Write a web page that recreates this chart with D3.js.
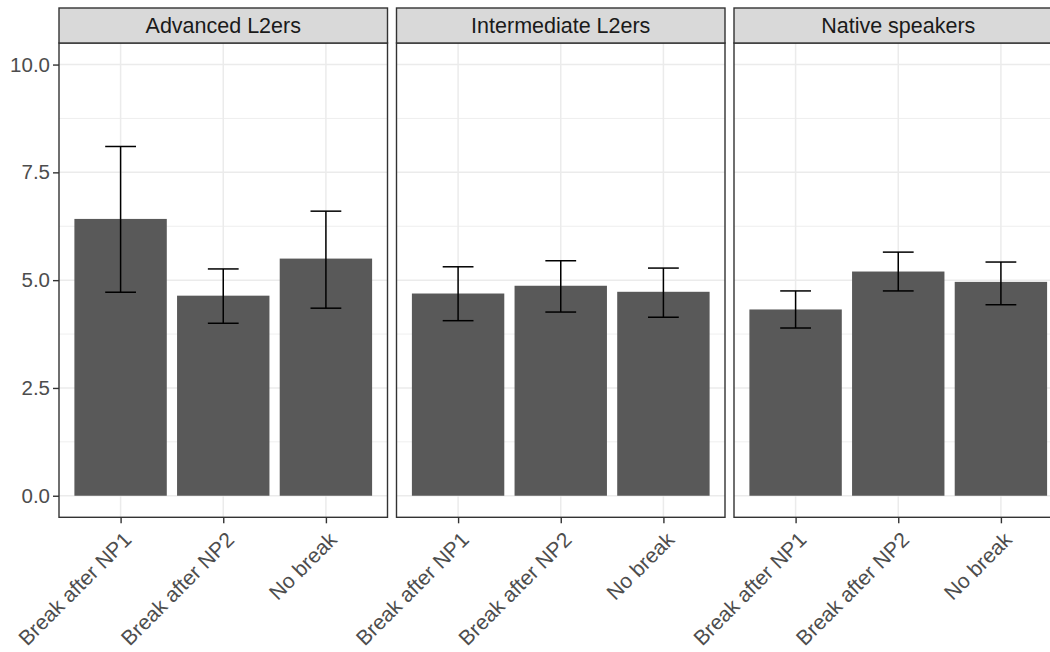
<!DOCTYPE html>
<html><head><meta charset="utf-8">
<script src="https://cdn.jsdelivr.net/npm/d3@7"></script>
<style>body{margin:0;background:#fff}svg{display:block}text{font-family:"Liberation Sans",Arial,sans-serif}</style>
</head><body>
<svg id="c" width="1050" height="652"></svg>
<script>
const groups = ["Advanced L2ers", "Intermediate L2ers", "Native speakers"];
const conditions = ["Break after NP1", "Break after NP2", "No break"];
const means = [[6.42, 4.64, 5.50], [4.69, 4.87, 4.73], [4.32, 5.20, 4.96]];
const upper = [[8.10, 5.26, 6.60], [5.31, 5.45, 5.28], [4.75, 5.65, 5.42]];
const lower = [[4.72, 4.00, 4.35], [4.06, 4.26, 4.14], [3.89, 4.75, 4.43]];
const yTicks = [0, 2.5, 5, 7.5, 10];
const yMinor = [1.25, 3.75, 6.25, 8.75];

const svg = d3.select("#c");
const panelLefts = [59, 396.5, 734];
const panelW = 328.5;
const stripTop = 8, stripBottom = 43, panelBottom = 517.3;

const y = d3.scaleLinear().domain([-0.5, 10.5]).range([panelBottom, stripBottom]);

groups.forEach((g, gi) => {
  const left = panelLefts[gi];
  const x = d3.scalePoint().domain(conditions).range([left, left + panelW]).padding(0.6);
  const step = x.step();
  const p = svg.append("g");
  // grid
  p.selectAll(".mn").data(yMinor).join("line")
    .attr("x1", left).attr("x2", left + panelW)
    .attr("y1", d => y(d)).attr("y2", d => y(d))
    .attr("stroke", "#EBEBEB").attr("stroke-width", 0.8);
  p.selectAll(".mj").data(yTicks).join("line")
    .attr("x1", left).attr("x2", left + panelW)
    .attr("y1", d => y(d)).attr("y2", d => y(d))
    .attr("stroke", "#EBEBEB").attr("stroke-width", 1.5);
  p.selectAll(".vx").data(conditions).join("line")
    .attr("x1", d => x(d)).attr("x2", d => x(d))
    .attr("y1", stripBottom).attr("y2", panelBottom)
    .attr("stroke", "#EBEBEB").attr("stroke-width", 1.5);
  // bars
  p.selectAll(".bar").data(conditions).join("rect")
    .attr("x", d => x(d) - 0.45 * step).attr("width", 0.9 * step)
    .attr("y", (d, i) => y(means[gi][i]))
    .attr("height", (d, i) => y(0) - y(means[gi][i]))
    .attr("fill", "#595959");
  // error bars
  const eb = p.selectAll(".eb").data(conditions).join("g").attr("stroke", "#000").attr("stroke-width", 1.5);
  eb.append("line").attr("x1", d => x(d)).attr("x2", d => x(d))
    .attr("y1", (d, i) => y(upper[gi][i])).attr("y2", (d, i) => y(lower[gi][i]));
  eb.append("line").attr("x1", d => x(d) - 0.15 * step).attr("x2", d => x(d) + 0.15 * step)
    .attr("y1", (d, i) => y(upper[gi][i])).attr("y2", (d, i) => y(upper[gi][i]));
  eb.append("line").attr("x1", d => x(d) - 0.15 * step).attr("x2", d => x(d) + 0.15 * step)
    .attr("y1", (d, i) => y(lower[gi][i])).attr("y2", (d, i) => y(lower[gi][i]));
  // panel border
  p.append("rect").attr("x", left).attr("y", stripBottom).attr("width", panelW).attr("height", panelBottom - stripBottom)
    .attr("fill", "none").attr("stroke", "#333333").attr("stroke-width", 1.4);
  // strip
  p.append("rect").attr("x", left).attr("y", stripTop).attr("width", panelW).attr("height", stripBottom - stripTop)
    .attr("fill", "#D9D9D9").attr("stroke", "#333333").attr("stroke-width", 1.4);
  p.append("text").attr("x", left + panelW / 2).attr("y", (stripTop + stripBottom) / 2).attr("dy", "0.36em")
    .attr("text-anchor", "middle").attr("font-size", 21.5).attr("fill", "#1A1A1A").text(g);
  // x axis
  const xa = p.append("g").attr("transform", `translate(0,${panelBottom})`)
    .call(d3.axisBottom(x).tickSize(6).tickPadding(0));
  xa.select(".domain").remove();
  xa.selectAll(".tick line").attr("stroke", "#333333").attr("stroke-width", 1.4);
  xa.selectAll(".tick text").attr("font-size", 21).attr("fill", "#4D4D4D")
    .attr("text-anchor", "end").attr("transform", "translate(1,13) rotate(-45)")
    .attr("y", 0).attr("dy", "0.72em").attr("x", 0);
});

// y axis
const ya = svg.append("g").attr("transform", `translate(${panelLefts[0]},0)`)
  .call(d3.axisLeft(y).tickValues(yTicks).tickFormat(d3.format(".1f")).tickSize(6).tickPadding(3));
ya.select(".domain").remove();
ya.selectAll(".tick line").attr("stroke", "#333333").attr("stroke-width", 1.4);
ya.selectAll(".tick text").attr("font-size", 20.5).attr("fill", "#4D4D4D");
</script>
</body></html>
